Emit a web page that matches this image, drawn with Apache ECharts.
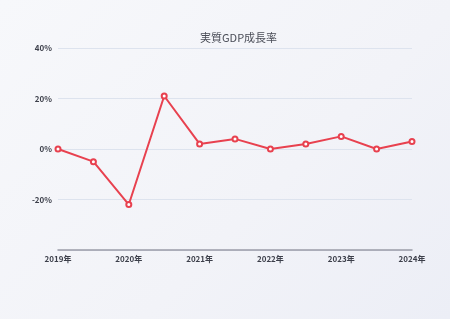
<!DOCTYPE html>
<html><head><meta charset="utf-8">
<script src="https://cdn.jsdelivr.net/npm/echarts@6/dist/echarts.min.js"></script>
<style>html,body{margin:0;padding:0;}#c{width:450px;height:319px;background:linear-gradient(135deg,#f7f8fb 0%,#f2f3f8 60%,#eceef6 100%);}</style>
</head><body><div id="c"></div>
<script>
const categories = ['2019年','2019H2','2020年','2020H2','2021年','2021H2','2022年','2022H2','2023年','2023H2','2024年'];
const growth = [0, -5, -22, 21, 2, 4, 0, 2, 5, 0, 3];
const titleText = '実質GDP成長率';

const chart = echarts.init(document.getElementById('c'), null, {renderer:'canvas'});
chart.setOption({
  backgroundColor: 'transparent',
  animation: false,
  title: {
    text: titleText, left: 195, top: 27,
    textStyle: {fontSize: 11, fontWeight: 'normal', color: '#4a4d57', fontFamily: 'Noto Sans CJK JP'}
  },
  grid: {left: 58, right: 38, top: 48, bottom: 69, containLabel: false},
  xAxis: {
    type: 'category', data: categories, boundaryGap: false,
    axisLine: {show: true, onZero: false, lineStyle: {color: '#9a9ca8', width: 1.5}},
    axisTick: {show: false},
    axisLabel: {
      interval: 1, margin: 5, fontSize: 8, fontWeight: 'bold', color: '#3c3f4a',
      fontFamily: 'Noto Sans CJK JP'
    },
    splitLine: {show: false}
  },
  yAxis: {
    type: 'value', min: -40, max: 40, interval: 20,
    axisLine: {show: false}, axisTick: {show: false},
    axisLabel: {
      formatter: '{value}%', showMinLabel: false, margin: 6,
      fontSize: 8, fontWeight: 'bold', color: '#3c3f4a', fontFamily: 'Noto Sans CJK JP'
    },
    splitLine: {show: true, lineStyle: {color: '#dde3ee', width: 1}}
  },
  series: [{
    type: 'line', data: growth,
    symbol: 'emptyCircle', symbolSize: 5,
    lineStyle: {color: '#e8414f', width: 2},
    itemStyle: {color: '#e8414f', borderColor: '#e8414f', borderWidth: 1.2}
  }]
});
</script></body></html>
